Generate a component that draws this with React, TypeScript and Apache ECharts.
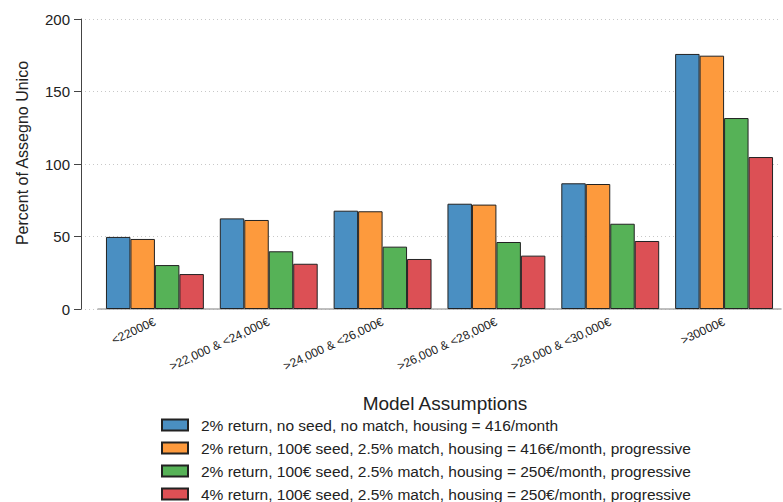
import React, { useEffect, useRef } from "react";
import * as echarts from "echarts";

const categories = [
  "<22000€",
  ">22,000 & <24,000€",
  ">24,000 & <26,000€",
  ">26,000 & <28,000€",
  ">28,000 & <30,000€",
  ">30000€",
];

const seriesNames = [
  "2% return, no seed, no match, housing = 416/month",
  "2% return, 100€ seed, 2.5% match, housing = 416€/month, progressive",
  "2% return, 100€ seed, 2.5% match, housing = 250€/month, progressive",
  "4% return, 100€ seed, 2.5% match, housing = 250€/month, progressive",
];

const blueValues = [49.7, 62.5, 67.8, 72.6, 86.7, 175.9];
const orangeValues = [48.3, 61.4, 67.4, 72.0, 86.2, 174.7];
const greenValues = [30.3, 39.8, 43.0, 46.2, 58.8, 131.7];
const redValues = [24.1, 31.2, 34.5, 36.8, 46.9, 104.8];

const seriesValues = [blueValues, orangeValues, greenValues, redValues];
const colors = ["#4a8fc2", "#fd9a3d", "#56b257", "#dc5055"];

const yTicks = { min: 0, max: 200, interval: 50 };
const yTitle = "Percent of Assegno Unico";

const FONT = "'Liberation Sans', Arial, Helvetica, sans-serif";

export default function App() {
  const ref = useRef<HTMLDivElement>(null);
  useEffect(() => {
    if (!ref.current) return;
    const chart = echarts.init(ref.current, null, { renderer: "svg" });
    chart.setOption({
      animation: false,
      textStyle: { fontFamily: FONT, color: "#222" },
      title: {
        text: "Model Assumptions",
        left: 440,
        top: 389,
        textAlign: "center",
        textStyle: { fontFamily: FONT, fontSize: 19, fontWeight: "normal", color: "#222" },
      },
      graphic: [
        {
          type: "text",
          x: 22,
          y: 153,
          rotation: Math.PI / 2,
          style: {
            text: yTitle,
            fontFamily: FONT,
            fontSize: 16,
            fill: "#222",
            textAlign: "center",
            textVerticalAlign: "middle",
          },
        },
      ],
      legend: {
        orient: "vertical",
        left: 161,
        top: 417,
        height: 110,
        padding: 0,
        itemWidth: 26,
        itemHeight: 11,
        itemGap: 7,
        icon: "rect",
        textStyle: { fontFamily: FONT, fontSize: 15.5, color: "#222", padding: [0, 0, 0, 8] },
        data: seriesNames,
      },
      grid: [
        { left: 98, right: 2, top: 19, bottom: 193 },
        { left: 81, right: 2, top: 19, bottom: 193 },
      ],
      xAxis: [
        {
          type: "category",
          gridIndex: 0,
          data: categories,
          axisLine: { show: true, lineStyle: { color: "#aaa", width: 1.5 } },
          axisTick: { show: false },
          axisLabel: {
            rotate: 25,
            margin: 12,
            interval: 0,
            fontSize: 12,
            fontFamily: FONT,
            color: "#222",
          },
        },
        { type: "value", gridIndex: 1, min: 0, max: 1, show: false },
      ],
      yAxis: [
        {
          type: "value",
          gridIndex: 0,
          min: yTicks.min,
          max: yTicks.max,
          interval: yTicks.interval,
          offset: 17,
          axisLine: { show: true, lineStyle: { color: "#444", width: 1 } },
          axisTick: { show: true, length: 7, lineStyle: { color: "#444" } },
          axisLabel: { fontSize: 15, margin: 11, color: "#222", fontFamily: FONT },
          splitLine: { show: false },
        },
        {
          type: "value",
          gridIndex: 1,
          min: yTicks.min,
          max: yTicks.max,
          interval: yTicks.interval,
          axisLine: { show: false },
          axisTick: { show: false },
          axisLabel: { show: false },
          splitLine: { show: true, lineStyle: { color: "#c8c8c8", type: [1, 3], width: 1 } },
        },
      ],
      series: seriesNames.map((name, i) => ({
        name,
        type: "bar",
        xAxisIndex: 0,
        yAxisIndex: 0,
        data: seriesValues[i],
        barGap: "0%",
        barCategoryGap: "14%",
        itemStyle: { color: colors[i], borderColor: "#222", borderWidth: 1 },
      })),
    });
    return () => chart.dispose();
  }, []);
  return (
    <div
      ref={ref}
      style={{ position: "absolute", left: 0, top: 0, width: 783, height: 502 }}
    />
  );
}
